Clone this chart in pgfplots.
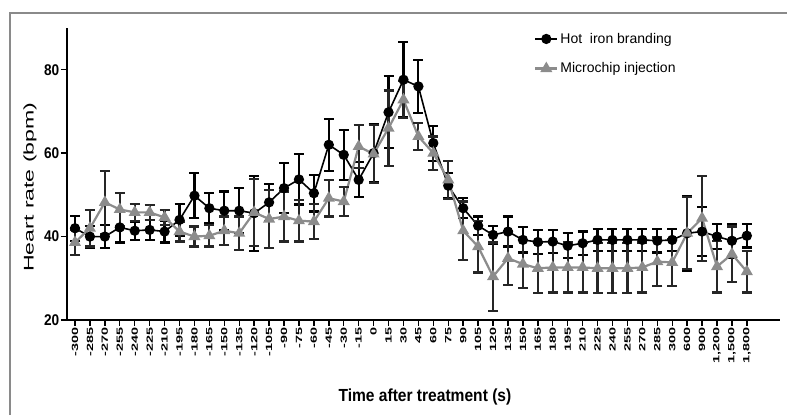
\documentclass[border=0pt]{standalone}
\usepackage{pgfplots}
\usepackage{pgfplotstable}
\pgfplotsset{compat=1.18}
\usepackage{fontspec}
\setmainfont{Liberation Sans}
\newfontfamily\ytickfont[FakeStretch=0.88]{Liberation Sans}
\newfontfamily\xtickfont[FakeStretch=1.6]{Liberation Sans}
\newfontfamily\ylabfont[FakeStretch=1.65]{Liberation Sans}
\newfontfamily\xlabfont[FakeStretch=0.89]{Liberation Sans}

\definecolor{chipgray}{HTML}{8C8C8C}
\definecolor{framegray}{HTML}{8A8A8A}

% x = category index (0 = -300 s ... 45 = 1,800 s), y = mean, e = error
\pgfplotstableread{
x y e
0 42.0 3.0
1 40.0 2.6
2 40.0 2.8
3 42.2 3.6
4 41.4 2.2
5 41.6 2.4
6 41.2 2.6
7 44.0 3.8
8 49.8 5.4
9 46.8 3.6
10 46.2 4.6
11 46.2 5.4
12 45.6 9.0
13 48.2 4.4
14 51.6 6.0
15 53.7 6.0
16 50.4 4.4
17 62.0 6.2
18 59.6 6.0
19 53.6 4.2
20 60.0 7.0
21 69.8 8.6
22 77.6 9.0
23 76.0 6.4
24 62.4 4.2
25 52.2 3.0
26 46.8 2.4
27 42.6 2.2
28 40.4 2.2
29 41.2 3.6
30 39.2 3.0
31 38.7 2.8
32 38.8 2.8
33 37.8 3.0
34 38.4 2.8
35 39.2 2.6
36 39.2 2.6
37 39.2 2.6
38 39.2 2.6
39 39.0 2.8
40 39.2 2.6
41 40.8 9.0
42 41.2 5.8
43 40.0 3.0
44 39.0 4.0
45 40.2 2.8
}\hotiron

\pgfplotstableread{
x y e
0 38.6 3.0
1 42.0 4.4
2 48.2 7.6
3 46.5 3.9
4 45.8 2.0
5 45.8 1.8
6 44.6 1.8
7 41.2 2.4
8 40.0 2.4
9 40.2 2.6
10 41.4 3.4
11 40.8 4.0
12 45.8 8.0
13 44.2 7.0
14 44.8 6.0
15 43.8 5.0
16 43.6 4.2
17 49.2 4.4
18 48.4 3.4
19 61.6 5.2
20 59.8 7.0
21 66.0 9.0
22 72.8 4.4
23 64.0 3.2
24 60.0 4.0
25 53.6 4.6
26 41.4 7.0
27 37.6 6.2
28 30.4 8.2
29 34.8 6.4
30 33.4 5.8
31 32.4 6.0
32 32.6 6.0
33 32.6 6.0
34 32.6 6.0
35 32.4 6.0
36 32.4 6.0
37 32.4 6.0
38 32.6 6.0
39 34.0 5.8
40 33.8 5.6
41 40.8 8.6
42 44.4 10.2
43 32.8 6.2
44 35.8 6.6
45 31.6 5.0
}\microchip

\begin{document}
\begin{tikzpicture}
\path[use as bounding box] (0,0) rectangle (787pt,415pt);
% outer frame of the figure
\draw[framegray, line width=2pt] (10pt,0pt) -- (10pt,402pt) -- (787pt,402pt);
\begin{axis}[
    at={(67pt,95pt)}, anchor=south west,
    scale only axis, width=713pt, height=292pt,
    xmin=-0.536, xmax=47.22, ymin=20, ymax=90,
    axis x line=bottom, axis y line=left,
    axis line style={-, line width=1.6pt},
    tick align=outside, major tick length=6pt,
    tick style={line width=1.4pt, black},
    /pgf/number format/assume math mode=true,
    xtick={0,...,45},
    xticklabels={-300,-285,-270,-255,-240,-225,-210,-195,-180,-165,-150,-135,-120,-105,-90,-75,-60,-45,-30,-15,0,15,30,45,60,75,90,105,120,135,150,165,180,195,210,225,240,255,270,285,300,600,900,{1,200},{1,500},{1,800}},
    xticklabel style={rotate=90, anchor=east, inner sep=1pt, font=\xtickfont\bfseries\fontsize{9}{9}\selectfont},
    ytick={20,40,60,80},
    yticklabel style={font=\ytickfont\bfseries\fontsize{15.5}{15.5}\selectfont, inner sep=1.5pt},
    xlabel={Time after treatment (s)},
    xlabel style={at={(axis description cs:0.502,-0.2798)}, anchor=base, font=\xlabfont\bfseries\fontsize{17.5}{17.5}\selectfont},
    ylabel={Heart rate (bpm)},
    ylabel style={at={(axis description cs:-0.052,0.455)}, anchor=center, font=\ylabfont\fontsize{14}{14}\selectfont},
    legend style={draw=none, fill=none, at={(axis description cs:0.655,0.99)}, anchor=north west,
        font=\fontsize{14}{14}\selectfont, row sep=14pt, inner sep=0pt},
    legend cell align=left,
    legend image code/.code={\draw[mark repeat=2, mark phase=2, #1] plot coordinates {(0pt,0pt) (11pt,0pt) (22pt,0pt)};},
    clip=false,
]
\addplot[black, line width=1.6pt, mark=*, mark size=4.3pt,
    error bars/.cd, y dir=both, y explicit,
    error bar style={line width=2.2pt, black},
    error mark options={rotate=90, mark size=5pt, line width=2.2pt, black}]
    table[x=x, y=y, y error=e] {\hotiron};
\addplot[chipgray, line width=2.2pt, mark=triangle*, mark size=4.8pt,
    error bars/.cd, y dir=both, y explicit,
    error bar style={line width=2.2pt, black!85},
    error mark options={rotate=90, mark size=5pt, line width=2.2pt, black!85}]
    table[x=x, y=y, y error=e] {\microchip};
\legend{Hot\ \ iron branding, Microchip injection}
\end{axis}
\end{tikzpicture}
\end{document}
